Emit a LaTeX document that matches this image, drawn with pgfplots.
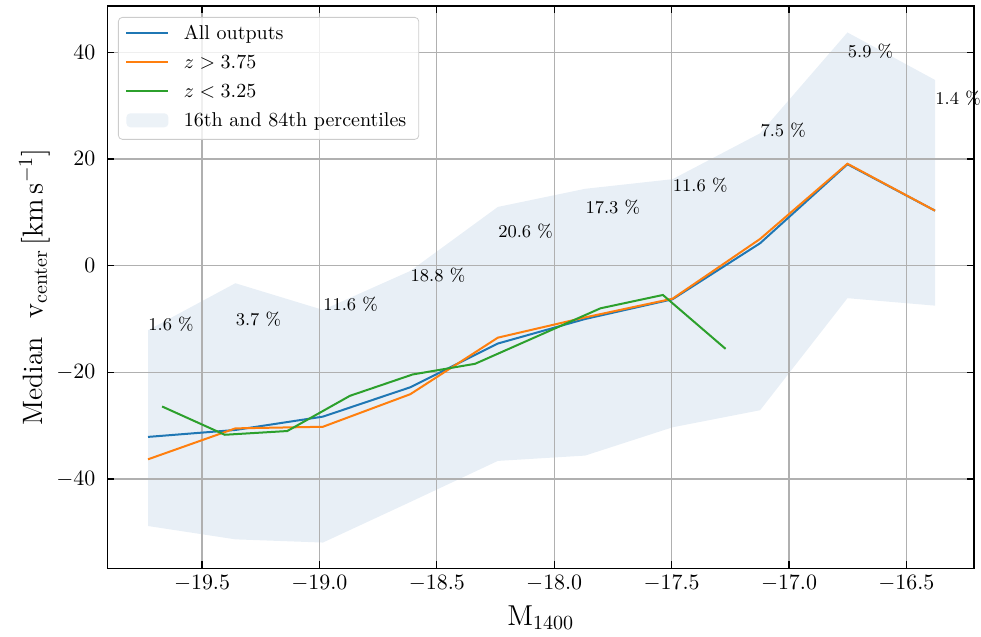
\documentclass[border=0pt]{standalone}
\usepackage{pgfplots}
\pgfplotsset{compat=1.18}
\definecolor{C0}{HTML}{1F77B4}
\definecolor{C1}{HTML}{FF7F0E}
\definecolor{C2}{HTML}{2CA02C}
\definecolor{bandcol}{RGB}{232,239,246}
\definecolor{gridc}{HTML}{B0B0B0}
\begin{document}
\begin{tikzpicture}
\begin{axis}[
  set layers,
  scale only axis, width=433.3pt, height=281.2pt,
  xmin=-19.903, xmax=-16.212, ymin=-56.74, ymax=48.66,
  clip=false,
  xtick={-19.5,-19.0,-18.5,-18.0,-17.5,-17.0,-16.5},
  ytick={-40,-20,0,20,40},
  xticklabel style={/pgf/number format/.cd,fixed,fixed zerofill,precision=1},
  grid=major, major grid style={gridc, line width=0.6pt},
  tick align=inside, major tick length=3.5pt,
  tick style={black, line width=0.6pt},
  axis line style={line width=0.7pt},
  ticklabel style={font=\fontsize{11}{13}\selectfont},
  yticklabel style={xshift=-2.5pt},
  label style={font=\fontsize{14}{16}\selectfont},
  xlabel={$\mathrm{M_{1400}}$},
  ylabel={Median\ \ $\mathrm{v_{center}}\,[\mathrm{km\,s^{-1}}]$},
  xlabel style={at={(axis description cs:0.5,-0.101)}, anchor=base},
  ylabel style={at={(axis description cs:-0.0748,0.5)}, anchor=base},
  legend style={at={(0,1)}, anchor=north west, xshift=5.3pt, yshift=-5.5pt,
    draw=black!20, rounded corners=2pt, fill=white, fill opacity=0.8, text opacity=1,
    font=\fontsize{10}{12}\selectfont, inner xsep=3.5pt, inner ysep=1.5pt,
    column sep=4.5pt,
    nodes={text height=7pt, text depth=2pt, inner sep=2.75pt}},
  legend cell align=left,
  legend image code/.code={\draw[#1, line width=1pt] (0pt,0.8pt) -- (21pt,0.8pt);},
]
\addplot[C0, line width=1pt] coordinates {
(-19.730,-32.1) (-19.358,-30.8) (-18.985,-28.3) (-18.613,-22.8) (-18.240,-14.6)
(-17.868,-10.0) (-17.496,-6.3) (-17.123,4.2) (-16.751,19.0) (-16.378,10.3)};
\addlegendentry{All outputs}
\addplot[C1, line width=1pt] coordinates {
(-19.730,-36.3) (-19.358,-30.5) (-18.985,-30.2) (-18.613,-24.1) (-18.240,-13.5)
(-17.868,-9.7) (-17.496,-6.2) (-17.123,5.0) (-16.751,19.1) (-16.378,10.3)};
\addlegendentry{$z > 3.75$}
\addplot[C2, line width=1pt] coordinates {
(-19.670,-26.4) (-19.403,-31.7) (-19.137,-31.0) (-18.870,-24.4) (-18.603,-20.4)
(-18.337,-18.4) (-18.070,-13.2) (-17.803,-8.0) (-17.537,-5.5) (-17.270,-15.6)};
\addlegendentry{$z < 3.25$}
\addplot[fill=bandcol, draw=none, on layer=axis background,
  legend image code/.code={\fill[bandcol] (0pt,-2.7pt) rectangle (21pt,4.3pt);}] coordinates {
(-19.730,-12.1) (-19.358,-3.3) (-18.985,-8.3) (-18.613,-1.0) (-18.240,11.0)
(-17.868,14.4) (-17.496,16.2) (-17.123,24.8) (-16.751,43.7) (-16.378,34.8)
(-16.378,-7.5) (-16.751,-6.1) (-17.123,-27.1) (-17.496,-30.3) (-17.868,-35.6)
(-18.240,-36.6) (-18.613,-44.3) (-18.985,-51.9) (-19.358,-51.3) (-19.730,-48.8)} -- cycle;
\addlegendentry{16th and 84th percentiles}
\begin{scope}[every node/.style={anchor=west, inner sep=0pt, font=\fontsize{9}{11}\selectfont}]
\node at (axis cs:-19.730,-11.0) {1.6 \%};
\node at (axis cs:-19.358,-10.1) {3.7 \%};
\node at (axis cs:-18.985,-7.2) {11.6 \%};
\node at (axis cs:-18.613,-1.8) {18.8 \%};
\node at (axis cs:-18.240,6.5) {20.6 \%};
\node at (axis cs:-17.868,10.9) {17.3 \%};
\node at (axis cs:-17.496,15.1) {11.6 \%};
\node at (axis cs:-17.123,25.4) {7.5 \%};
\node at (axis cs:-16.751,40.1) {5.9 \%};
\node at (axis cs:-16.378,31.4) {1.4 \%};
\end{scope}
\end{axis}
\pgfresetboundingbox
\path[use as bounding box] ([xshift=-53.7pt,yshift=-34.3pt]current axis.south west) rectangle ([xshift=3.5pt,yshift=3pt]current axis.north east);
\end{tikzpicture}
\end{document}
